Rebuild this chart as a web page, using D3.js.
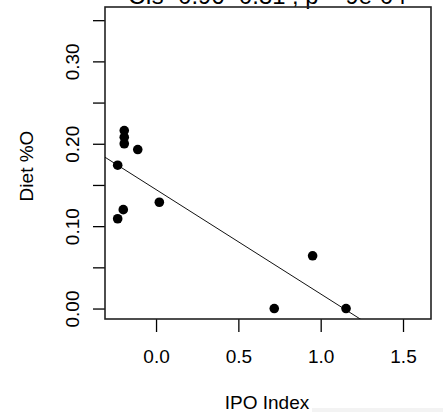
<!DOCTYPE html>
<html><head><meta charset="utf-8">
<script src="https://cdn.jsdelivr.net/npm/d3@7"></script>
<style>body{margin:0;background:#fff}svg{display:block}text{font-family:"Liberation Sans",Arial,sans-serif;fill:#000}</style>
</head><body><svg id="c" width="443" height="412"></svg>
<script>
const ipoIndex = [-0.193, -0.193, -0.193, -0.111, -0.233, 0.020, -0.199, -0.233, 0.951, 0.718, 1.154];
const dietO    = [0.216, 0.208, 0.200, 0.193, 0.174, 0.129, 0.120, 0.109, 0.064, 0.000, 0.000];
const xTicks = [0, 0.5, 1.0, 1.5];
const xTickLabels = ["0.0", "0.5", "1.0", "1.5"];
const yTicks = [0, 0.05, 0.10, 0.15, 0.20, 0.25, 0.30, 0.35];
const yTickLabels = ["0.00", "", "0.10", "", "0.20", "", "0.30", ""];
const fitIntercept = 0.1444, fitSlope = -0.1267;
const titleText = "CIs -0.96 -0.31 , p = 9e-04";
const xTitle = "IPO Index", yTitle = "Diet %O";

const L = 105, R = 431, T = 7, B = 319;
const svg = d3.select("#c");
const x = d3.scaleLinear().domain([-0.31, 1.67]).range([L, R]);
const y = d3.scaleLinear().domain([-0.0127, 0.366]).range([B, T]);

svg.append("defs").append("clipPath").attr("id","clip")
  .append("rect").attr("x",L).attr("y",T).attr("width",R-L).attr("height",B-T);

// faint artifact bottom right
svg.append("rect").attr("x",312).attr("y",408).attr("width",131).attr("height",4).attr("fill","#f3f3f3");

// title (cut off at top, as in the reference)
svg.append("text").attr("x",128).attr("y",4).attr("text-anchor","start")
  .style("font-size","23.8px").text(titleText);

// x axis
const xa = svg.append("g").attr("transform",`translate(0,${B})`)
  .call(d3.axisBottom(x).tickValues(xTicks).tickFormat((d,i)=>xTickLabels[i]).tickSize(13).tickSizeOuter(0));
xa.select(".domain").remove();
xa.selectAll("line").attr("stroke","#000").attr("stroke-width",1.3);
xa.selectAll("text").attr("y",44).attr("dy",0).style("font-size","19px").attr("font-family",null);

// y axis
const ya = svg.append("g").attr("transform",`translate(${L},0)`)
  .call(d3.axisLeft(y).tickValues(yTicks).tickFormat((d,i)=>yTickLabels[i]).tickSize(12).tickSizeOuter(0));
ya.select(".domain").remove();
ya.selectAll("line").attr("stroke","#000").attr("stroke-width",1.3);
ya.selectAll("text").attr("x",0).attr("y",-26).attr("dy",0).attr("text-anchor","middle")
  .attr("transform","rotate(-90)").style("font-size","19px").attr("font-family",null);

// box
svg.append("rect").attr("x",L).attr("y",T).attr("width",R-L).attr("height",B-T)
  .attr("fill","none").attr("stroke","#222").attr("stroke-width",1.6);

// regression line
const x0 = x.domain()[0], x1 = x.domain()[1];
svg.append("line").attr("clip-path","url(#clip)")
  .attr("x1",x(x0)).attr("y1",y(fitIntercept+fitSlope*x0))
  .attr("x2",x(x1)).attr("y2",y(fitIntercept+fitSlope*x1))
  .attr("stroke","#111").attr("stroke-width",1);

// points
svg.append("g").selectAll("circle").data(ipoIndex).join("circle")
  .attr("cx",d=>x(d)).attr("cy",(d,i)=>y(dietO[i])).attr("r",4.8).attr("fill","#000");

// axis titles
svg.append("text").attr("x",267).attr("y",409).attr("text-anchor","middle").style("font-size","19px").text(xTitle);
svg.append("text").attr("transform","translate(33,166) rotate(-90)").attr("text-anchor","middle").style("font-size","19px").text(yTitle);
</script></body></html>
